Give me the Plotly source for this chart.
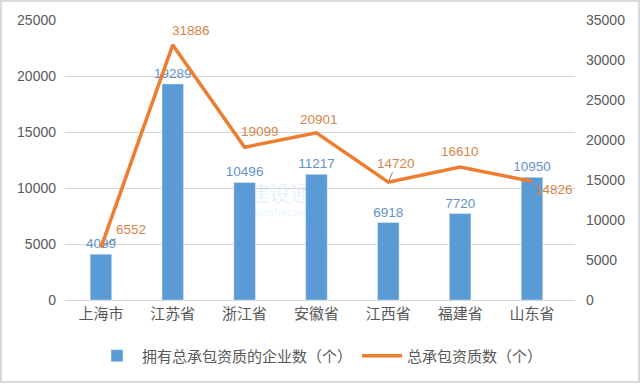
import plotly.graph_objects as go

categories = ["上海市", "江苏省", "浙江省", "安徽省", "江西省", "福建省", "山东省"]
enterprises = [4089, 19289, 10496, 11217, 6918, 7720, 10950]
qualifications = [6552, 31886, 19099, 20901, 14720, 16610, 14826]
bar_name = "拥有总承包资质的企业数（个）"
line_name = "总承包资质数（个）"

# label offsets (pixels) for line labels: (xshift, yshift, arrow)
line_label_offsets = [(30, 18, True), (18, 14, False), (15, 16, False), (3, 13, False),
                      (8, 19, True), (0, 16, False), (22, -8, False)]

BLUE = "#5B9BD5"
ORANGE = "#ED7D31"
NUM_FONT = "Liberation Sans"
CJK_FONT = "Noto Sans CJK SC"

fig = go.Figure()
fig.add_trace(go.Bar(
    x=categories, y=enterprises, name=bar_name, marker_color=BLUE,
    text=[str(v) for v in enterprises], textposition="outside", constraintext="none",
    textfont=dict(color="#5F93C9", size=13.5, family=NUM_FONT), cliponaxis=False,
))
fig.add_trace(go.Scatter(
    x=categories, y=qualifications, name=line_name, yaxis="y2", mode="lines",
    line=dict(color=ORANGE, width=3.5),
))

annotations = []
for c, v, (dx, dy, arrow) in zip(categories, qualifications, line_label_offsets):
    if arrow:
        annotations.append(dict(
            x=c, y=v, xref="x", yref="y2", text=str(v), showarrow=True,
            arrowhead=0, arrowwidth=1, arrowcolor="#7F7F7F", ax=dx, ay=-dy,
            standoff=2, font=dict(color="#D9844A", size=13.5, family=NUM_FONT),
        ))
    else:
        annotations.append(dict(
            x=c, y=v, xref="x", yref="y2", text=str(v), showarrow=False,
            xshift=dx, yshift=dy, font=dict(color="#D9844A", size=13.5, family=NUM_FONT),
        ))

# faint watermark
annotations.append(dict(x=0.42, y=0.385, xref="paper", yref="paper", text="建设通",
                        showarrow=False, font=dict(size=21, color="rgba(91,155,213,0.14)", family=CJK_FONT)))
annotations.append(dict(x=0.42, y=0.285, xref="paper", yref="paper", text="jianshetong",
                        showarrow=False, font=dict(size=11, color="rgba(91,155,213,0.14)", family=NUM_FONT)))

fig.update_layout(
    width=640, height=384,
    margin=dict(l=65, r=65, t=20, b=84, autoexpand=False),
    paper_bgcolor="white", plot_bgcolor="white",
    bargap=0.7,
    showlegend=True,
    legend=dict(orientation="h", x=0.5, xanchor="center", y=-0.2, yanchor="middle",
                font=dict(size=15, color="#595959", family=CJK_FONT), itemwidth=40),
    xaxis=dict(showgrid=False, showline=True, linecolor="#D9D9D9", linewidth=1,
               tickfont=dict(size=15, color="#595959", family=CJK_FONT), ticks=""),
    yaxis=dict(range=[0, 25000], dtick=5000, tickformat="d", showgrid=True, gridcolor="#D9D9D9",
               zeroline=False, showline=False, ticks="", ticklabelstandoff=8,
               tickfont=dict(size=14, color="#595959", family=NUM_FONT)),
    yaxis2=dict(range=[0, 35000], dtick=5000, tickformat="d", overlaying="y", side="right",
                showgrid=False, zeroline=False, showline=False, ticks="", ticklabelstandoff=10,
                tickfont=dict(size=14, color="#595959", family=NUM_FONT)),
    annotations=annotations,
    shapes=[dict(type="rect", xref="paper", yref="paper",
                 x0=-64 / 510, x1=1 + 64 / 510, y0=-82 / 280, y1=1 + 19 / 280,
                 line=dict(color="#D9D9D9", width=2), fillcolor="rgba(0,0,0,0)")],
)

fig.write_html("out.html", config={"displayModeBar": False},
               post_script="document.body.style.margin='0';")
